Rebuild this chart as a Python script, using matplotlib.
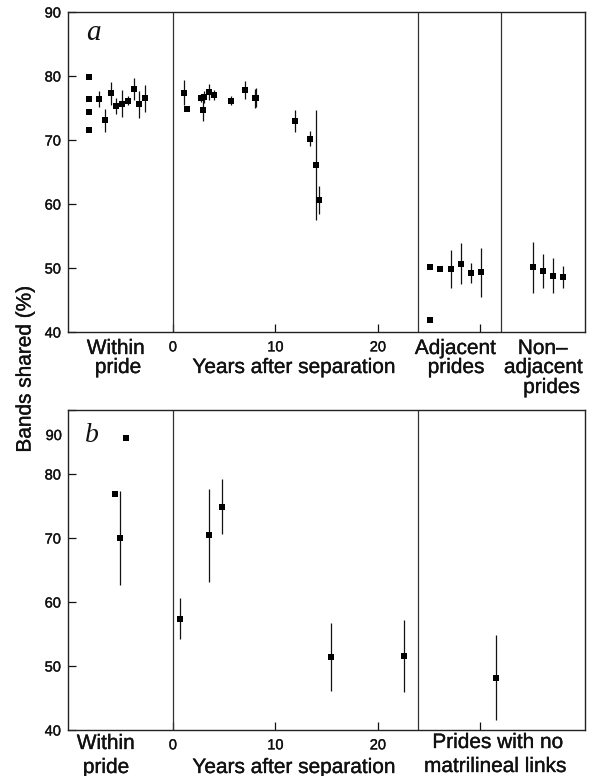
import matplotlib
matplotlib.use("Agg")
import matplotlib.pyplot as plt
import matplotlib.patheffects as pe

# ---------------- data ----------------
# Panel a
a_within_single = [79.8, 76.4, 74.3, 71.5]
a_within_mean = [76.4, 73.1, 77.3, 75.3, 75.7, 76.1, 78.0, 75.6, 76.5]
a_within_err = [1.3, 1.8, 1.8, 1.3, 2.1, 0.7, 1.7, 2.1, 2.1]

a_years = [1.1, 1.35, 2.75, 2.95, 3.0, 3.5, 4.0, 5.65, 7.0, 8.0, 8.15, 11.95, 13.4, 13.95, 14.2]
a_years_mean = [77.4, 74.9, 76.6, 74.7, 76.7, 77.5, 77.0, 76.1, 77.8, 76.5, 76.6, 73.0, 70.2, 66.1, 60.6]
a_years_err = [2.0, 0.0, 0.6, 1.7, 0.9, 1.3, 0.8, 0.7, 1.35, 1.5, 1.5, 1.7, 1.2, 8.6, 2.2]

a_adjacent_mean = [50.1, 41.9, 49.8, 49.8, 50.7, 49.2, 49.3]
a_adjacent_err = [0.0, 0.0, 0.0, 3.0, 3.15, 1.6, 3.9]

a_nonadj_mean = [50.1, 49.5, 48.8, 48.6]
a_nonadj_err = [3.95, 2.7, 2.7, 1.7]

# Panel b
b_within_mean = [76.9, 70.0, 85.6]
b_within_err = [0.0, 7.4, 0.0]

b_years = [0.65, 3.5, 4.8, 15.4, 22.5]
b_years_mean = [57.4, 70.4, 74.9, 51.4, 51.6]
b_years_err = [3.2, 7.3, 4.25, 5.35, 5.65]

b_nolink_mean = [48.2]
b_nolink_err = [6.65]

y_ticks = [40, 50, 60, 70, 80, 90]
x_ticks = [0, 10, 20, 30]
x_ticklabels = ["0", "10", "20", ""]

# ---------------- layout ----------------
W, H = 592, 776
XMIN, XMAX = -10.24, 40.2
DIV_ADJ = 23.9
DIV_NON = 32.0

SANS = "Liberation Sans"
SERIF = "Liberation Serif"
INK = "#111111"
HEAVY = [pe.withStroke(linewidth=0.25, foreground=INK)]


def fx(px):
    return px / W


def fy(py):
    return 1 - py / H


fig = plt.figure(figsize=(W / 100, H / 100), dpi=100)
ax_a = fig.add_axes([fx(68), fy(332), fx(585) - fx(68), fy(12) - fy(332)])
ax_b = fig.add_axes([fx(68), fy(730), fx(585) - fx(68), fy(410) - fy(730)])


def style_axes(ax, ylabels):
    ax.set_xlim(XMIN, XMAX)
    ax.set_ylim(40, 90)
    ax.set_yticks(y_ticks)
    ax.set_yticklabels(ylabels, fontsize=10.5, family=SANS)
    ax.set_xticks(x_ticks)
    ax.set_xticklabels(x_ticklabels, fontsize=10.5, family=SANS)
    for lbl in ax.get_xticklabels() + ax.get_yticklabels():
        lbl.set_path_effects(HEAVY)
    ax.tick_params(axis="y", direction="in", length=6, width=0.9, pad=5, colors=INK)
    ax.tick_params(axis="x", direction="in", length=6, width=0.9, pad=6, colors=INK)
    for s in ax.spines.values():
        s.set_linewidth(1.0)
        s.set_color("#222222")
    ax.axvline(0, color="#333333", lw=0.9)
    ax.axvline(DIV_ADJ, color="#333333", lw=0.9)


def draw(ax, x, y, e, ms):
    ax.errorbar(x, y, yerr=e, fmt="s", ms=ms, color="black", mec="black",
                mew=0.0, ecolor=INK, elinewidth=0.9, capsize=0, zorder=3)


# ---- panel a ----
style_axes(ax_a, [str(v) for v in y_ticks])
ax_a.axvline(DIV_NON, color="#333333", lw=0.9)

draw(ax_a, [-8.2] * len(a_within_single), a_within_single, None, 4.3)
draw(ax_a, [-7.2 + 0.56 * i for i in range(len(a_within_mean))], a_within_mean, a_within_err, 4.3)
draw(ax_a, a_years, a_years_mean, a_years_err, 4.3)
adj_slots = [0, 0, 1, 2, 3, 4, 5]
draw(ax_a, [25.1 + s for s in adj_slots], a_adjacent_mean, a_adjacent_err, 4.0)
draw(ax_a, [35.1 + 1.0 * i for i in range(len(a_nonadj_mean))], a_nonadj_mean, a_nonadj_err, 4.0)

# ---- panel b ----
style_axes(ax_b, [str(v) for v in y_ticks[:-1]] + [""])
draw(ax_b, [-5.66 + 0.53 * i for i in range(len(b_within_mean))], b_within_mean, b_within_err, 3.7)
draw(ax_b, b_years, b_years_mean, b_years_err, 3.7)
draw(ax_b, [31.5], b_nolink_mean, b_nolink_err, 3.7)

# misplaced "90" label of panel b (as in the original)
fig.text(fx(62), fy(436), "90", ha="right", va="center", fontsize=10.5, family=SANS,
         color=INK, path_effects=HEAVY)

# ---- panel letters ----
fig.text(fx(93), fy(33), "a", ha="center", va="center", fontsize=21, family=SERIF,
         style="italic", color=INK)
fig.text(fx(92), fy(436), "b", ha="center", va="center", fontsize=20, family=SERIF,
         style="italic", color=INK)

# ---- category labels ----
LBL = dict(ha="center", va="baseline", fontsize=15, family=SANS, color=INK,
           path_effects=HEAVY)

# panel a
fig.text(fx(116), fy(354), "Within", **LBL)
fig.text(fx(118), fy(373), "pride", **LBL)
fig.text(fx(294), fy(373), "Years after separation", **LBL)
fig.text(fx(455.5), fy(354), "Adjacent", **LBL)
fig.text(fx(456), fy(373), "prides", **LBL)
fig.text(fx(543), fy(354), "Non\u2013", **LBL)
fig.text(fx(543.5), fy(373), "adjacent", **LBL)
fig.text(fx(551.5), fy(393), "prides", **LBL)

# panel b
fig.text(fx(106), fy(749), "Within", **LBL)
fig.text(fx(106), fy(773), "pride", **LBL)
fig.text(fx(294), fy(773), "Years after separation", **LBL)
fig.text(fx(498), fy(748), "Prides with no", **LBL)
fig.text(fx(495.5), fy(772), "matrilineal links", **LBL)

# y label
fig.text(fx(25), fy(369), "Bands shared (%)", ha="center", va="center", rotation=90,
         fontsize=15, family=SANS, color=INK, path_effects=HEAVY)

fig.savefig("out.png", dpi=100)
